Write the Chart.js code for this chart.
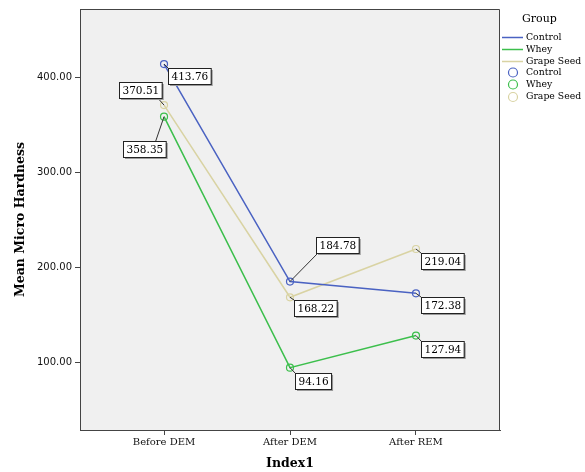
<!DOCTYPE html>
<html><head><meta charset="utf-8">
<script src="https://cdn.jsdelivr.net/npm/chart.js@4/dist/chart.umd.min.js"></script>
<style>html,body{margin:0;padding:0;background:#fff}#wrap{width:585px;height:472px}</style>
</head><body><div id="wrap"><canvas id="c" width="585" height="472"></canvas></div>
<script>
const categories = ["Before DEM", "After DEM", "After REM"];
const controlValues = [413.76, 184.78, 172.38];
const wheyValues = [358.35, 94.16, 127.94];
const grapeSeedValues = [370.51, 168.22, 219.04];
const yTickValues = [100, 200, 300, 400];
const groupNames = ["Control", "Whey", "Grape Seed"];

const colors = ["#4a62c2", "#3cbf4c", "#d9d3a3"];
const seriesValues = [controlValues, wheyValues, grapeSeedValues];

// label box placement offsets (px, relative to point)
const labelOffsets = [
  [[4, 4], [26, -45], [5, 4]],
  [[-41, 24], [5, 5], [5, 5]],
  [[-45, -23], [4, 3], [5, 4]]
];

const datasets = seriesValues.map((vals, i) => ({
  label: groupNames[i],
  data: vals.map((v, j) => ({x: j, y: v})),
  borderColor: colors[i],
  backgroundColor: 'transparent',
  borderWidth: 1.5,
  pointRadius: 3.5,
  pointBorderWidth: 1.2,
  pointBorderColor: colors[i],
  pointBackgroundColor: 'transparent',
  tension: 0
}));

const SERIF = '"DejaVu Serif", serif';

const decor = {
  id: 'decor',
  beforeDraw(chart) {
    const {ctx, chartArea: a} = chart;
    ctx.save();
    ctx.fillStyle = '#fff';
    ctx.fillRect(0, 0, chart.width, chart.height);
    ctx.fillStyle = '#f0f0f0';
    ctx.fillRect(a.left, a.top, a.right - a.left, a.bottom - a.top);
    ctx.restore();
  },
  afterDraw(chart) {
    const {ctx, chartArea: a} = chart;
    ctx.save();
    // frame top and right
    ctx.strokeStyle = '#444';
    ctx.lineWidth = 1;
    ctx.beginPath();
    ctx.moveTo(a.left, a.top + 0.5);
    ctx.lineTo(a.right - 0.5, a.top + 0.5);
    ctx.lineTo(a.right - 0.5, a.bottom);
    ctx.stroke();
    // axis titles
    ctx.fillStyle = '#000';
    ctx.font = 'bold 12.5px ' + SERIF;
    ctx.textAlign = 'center';
    ctx.textBaseline = 'middle';
    ctx.fillText('Index1', (a.left + a.right) / 2, 464);
    ctx.save();
    ctx.translate(21, (a.top + a.bottom) / 2);
    ctx.rotate(-Math.PI / 2);
    ctx.fillText('Mean Micro Hardness', 0, 0);
    ctx.restore();
    // data labels
    ctx.font = '10.5px ' + SERIF;
    chart.data.datasets.forEach((ds, i) => {
      const meta = chart.getDatasetMeta(i);
      meta.data.forEach((pt, j) => {
        const txt = seriesValues[i][j].toFixed(2);
        const [dx, dy] = labelOffsets[i][j];
        const w = ctx.measureText(txt).width + 6;
        const h = 16;
        const bx = Math.round(pt.x + dx), by = Math.round(pt.y + dy);
        let lx = bx, ly = by;
        if (dx < 0) lx = bx + w - 4;
        if (dy < 0) ly = by + h;
        if (dx < 0 && dy > 0) { lx = bx + w - 10; ly = by; }
        if (dx > 10 && dy < 0) { lx = bx + 2; ly = by + h; }
        ctx.strokeStyle = '#333';
        ctx.lineWidth = 1;
        ctx.beginPath();
        ctx.moveTo(lx, ly);
        ctx.lineTo(pt.x, pt.y);
        ctx.stroke();
        ctx.fillStyle = '#9a9a9a';
        ctx.fillRect(bx + 2, by + 2, w, h);
        ctx.fillStyle = '#fff';
        ctx.fillRect(bx, by, w, h);
        ctx.strokeStyle = '#222';
        ctx.strokeRect(bx + 0.5, by + 0.5, w, h);
        ctx.fillStyle = '#000';
        ctx.textAlign = 'center';
        ctx.textBaseline = 'middle';
        ctx.fillText(txt, bx + w / 2 + 0.5, by + h / 2 + 1);
      });
    });
    // legend
    ctx.textAlign = 'left';
    ctx.textBaseline = 'middle';
    ctx.fillStyle = '#000';
    ctx.font = '11px ' + SERIF;
    ctx.fillText('Group', 522, 19);
    ctx.font = '9.3px ' + SERIF;
    const rows = [37.5, 49.5, 61.5, 72.5, 84.5, 97];
    groupNames.forEach((n, i) => {
      ctx.strokeStyle = colors[i];
      ctx.lineWidth = 1.5;
      ctx.beginPath();
      ctx.moveTo(502, rows[i]);
      ctx.lineTo(523, rows[i]);
      ctx.stroke();
      ctx.fillStyle = '#000';
      ctx.fillText(n, 526, rows[i]);
    });
    groupNames.forEach((n, i) => {
      const y = rows[i + 3];
      ctx.strokeStyle = colors[i];
      ctx.lineWidth = 1.2;
      ctx.beginPath();
      ctx.arc(513, y, 4.5, 0, Math.PI * 2);
      ctx.stroke();
      ctx.fillStyle = '#000';
      ctx.fillText(n, 526, y);
    });
    ctx.restore();
  }
};

new Chart(document.getElementById('c'), {
  type: 'line',
  data: {datasets},
  options: {
    responsive: false,
    animation: false,
    devicePixelRatio: 1,
    layout: {padding: {left: 0, top: 8, right: 85, bottom: 0}},
    plugins: {legend: {display: false}, tooltip: {enabled: false}},
    scales: {
      x: {
        type: 'linear',
        min: -0.667, max: 2.667,
        afterFit(s) { s.height = 42; },
        afterBuildTicks(s) { s.ticks = categories.map((c, i) => ({value: i})); },
        ticks: {
          callback: (v) => categories[v] ?? '',
          color: '#111', font: {family: SERIF, size: 10}, padding: 1, maxRotation: 0, autoSkip: false
        },
        grid: {drawOnChartArea: false, drawTicks: true, tickLength: 5, color: '#444'},
        border: {display: true, color: '#444'}
      },
      y: {
        min: 28.5, max: 471.7,
        afterFit(s) { s.width = 80; },
        afterBuildTicks(s) { s.ticks = yTickValues.map(v => ({value: v})); },
        ticks: {
          callback: (v) => v.toFixed(2),
          color: '#111', font: {family: '"DejaVu Sans", sans-serif', size: 10}, padding: 3
        },
        grid: {drawOnChartArea: false, drawTicks: true, tickLength: 5, color: '#444'},
        border: {display: true, color: '#444'}
      }
    }
  },
  plugins: [decor]
});
</script></body></html>
